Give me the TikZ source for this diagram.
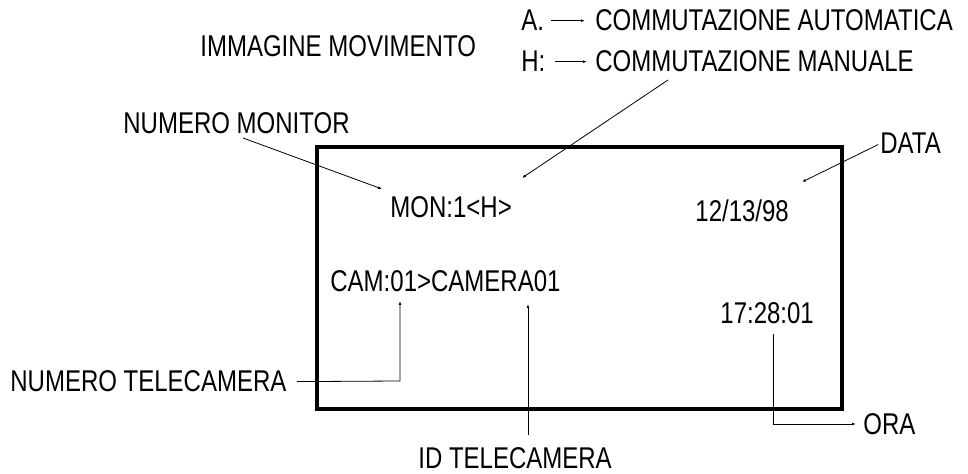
\documentclass[tikz,border=0pt]{standalone}
\usepackage{fontspec}
\usetikzlibrary{arrows.meta}
\newfontfamily\osdfamily[FakeStretch=0.80]{Liberation Sans}
\newcommand{\osdfont}{\fontsize{15}{17}\selectfont\osdfamily}

\begin{document}
\begin{tikzpicture}[x=0.5pt, y=-0.5pt,
  lbl/.style={inner sep=0pt, anchor=base west, font=\osdfont},
  lead/.style={line width=0.4pt, -{Latex[length=2pt,width=1.4pt]}},
  screen/.style={line width=1.7pt}]
\useasboundingbox (0,0) rectangle (968,474);

% schermo
\draw[screen] (317,147) rectangle (842,409);

% testi sullo schermo
\node[lbl] (mon)   at (390,218) {MON:1<H>};
\node[lbl] (date)  at (695,222) {12/13/98};
\node[lbl] (cam)   at (330,292) {CAM:01>CAMERA01};
\node[lbl] (time)  at (720,324) {17:28:01};

% didascalie
\node[lbl] (movim)  at (200,57)  {IMMAGINE MOVIMENTO};
\node[lbl] (keyA)   at (521,31)  {A.};
\node[lbl] (keyH)   at (521,72)  {H:};
\node[lbl] (comAut) at (595,31)  {COMMUTAZIONE AUTOMATICA};
\node[lbl] (comMan) at (595,72)  {COMMUTAZIONE MANUALE};
\node[lbl] (numMon) at (123,134) {NUMERO MONITOR};
\node[lbl] (data)   at (880,154) {DATA};
\node[lbl] (numTel) at (10,392)  {NUMERO TELECAMERA};
\node[lbl] (idTel)  at (418,469) {ID TELECAMERA};
\node[lbl] (ora)    at (863,435) {ORA};

% punti di riferimento
\coordinate (manStart) at (668,80);
\coordinate (manTip)   at (522,178);
\coordinate (monStart) at (243,138);
\coordinate (monTip)   at (382,189);
\coordinate (dataTip)  at (802,182);
\coordinate (camTip)   at (400,301);
\coordinate (camBend)  at (400,381);
\coordinate (idTip)    at (528,304);
\coordinate (idEnd)    at (528,435);
\coordinate (timeTop)  at (773,334);
\coordinate (timeBend) at (773,424);

% frecce
\draw[lead, shorten <=3.5pt, shorten >=5pt] (keyA.east) -- (comAut.west |- keyA.east);
\draw[lead, shorten <=4.5pt, shorten >=4pt] (keyH.east) -- (comMan.west |- keyH.east);
\draw[lead] (manStart) -- (manTip);
\draw[lead] (monStart) -- (monTip);
\draw[lead, shorten <=1pt] (data.west) -- (dataTip);
\draw[lead, shorten <=5pt] (numTel.east) -- (camBend) -- (camTip);
\draw[lead] (idEnd) -- (idTip);
\draw[lead, shorten >=3.5pt] (timeTop) -- (timeBend) -- (ora.west |- timeBend);
\end{tikzpicture}
\end{document}
